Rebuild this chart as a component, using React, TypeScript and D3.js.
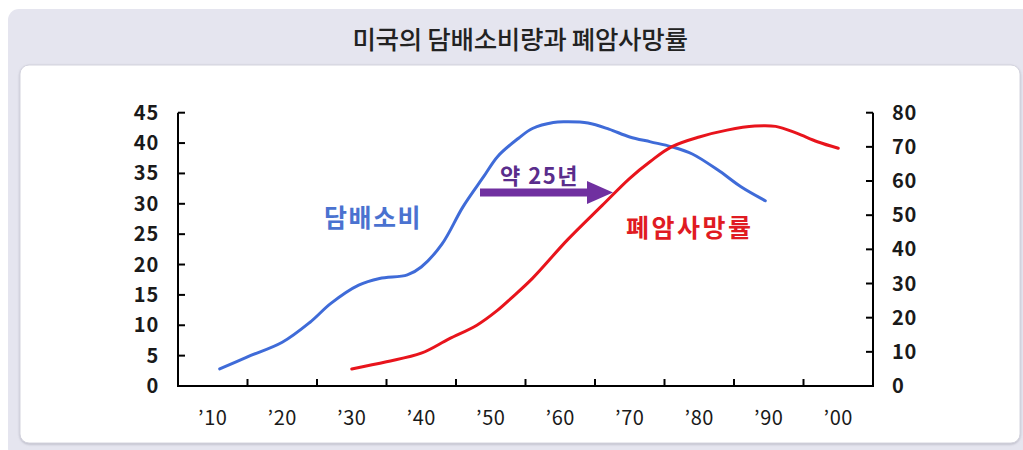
import React from "react";
import * as d3 from "d3";

// U.S. per-capita cigarette consumption (left axis) and lung-cancer death rate (right axis)
const smokingYears = [1911, 1915, 1920, 1924, 1927, 1931, 1934, 1938, 1940, 1943, 1946, 1949, 1951, 1954, 1956, 1959, 1961, 1964, 1967, 1970, 1973, 1976, 1979, 1983, 1986, 1989.5];
const smokingValues = [2.8, 4.8, 7.2, 10.5, 13.6, 16.6, 17.7, 18.3, 19.6, 23.4, 29.5, 34.5, 37.8, 40.8, 42.4, 43.4, 43.5, 43.3, 42.3, 41.0, 40.2, 39.4, 38.2, 35.3, 32.8, 30.5];

const cancerYears = [1930, 1935, 1940, 1944, 1948, 1951, 1953, 1956, 1961, 1966, 1970, 1973, 1976, 1980, 1984, 1988, 1991, 1994, 1997, 2000];
const cancerValues = [5.0, 7.1, 9.6, 13.8, 17.8, 22.2, 25.8, 31.5, 42.7, 52.8, 60.8, 65.8, 70.0, 72.9, 74.9, 76.1, 76.0, 74.0, 71.5, 69.6];

const decadeLabels = ["\u201910", "\u201920", "\u201930", "\u201940", "\u201950", "\u201960", "\u201970", "\u201980", "\u201990", "\u201900"];
const decadeYears = [1910, 1920, 1930, 1940, 1950, 1960, 1970, 1980, 1990, 2000];
const leftTicks = [0, 5, 10, 15, 20, 25, 30, 35, 40, 45];
const rightTicks = [0, 10, 20, 30, 40, 50, 60, 70, 80];

const W = 1023;
const H = 450;
const plot = { left: 178, right: 873, top: 112.7, bottom: 386 };

const KR = "'Noto Sans CJK KR', 'Noto Sans', sans-serif";

export default function App() {
  const x = d3.scaleLinear().domain([1905, 2005]).range([plot.left, plot.right]);
  const yL = d3.scaleLinear().domain([0, 45]).range([plot.bottom, plot.top]);
  const yR = d3.scaleLinear().domain([0, 80]).range([plot.bottom, plot.top]);

  const smokingLine = d3
    .line<number>()
    .x((_, i) => x(smokingYears[i]))
    .y((v) => yL(v))
    .curve(d3.curveCatmullRom.alpha(0.5));
  const cancerLine = d3
    .line<number>()
    .x((_, i) => x(cancerYears[i]))
    .y((v) => yR(v))
    .curve(d3.curveCatmullRom.alpha(0.5));

  const boundaryYears = d3.range(1915, 2000, 10);

  // delay arrow between the two curves
  const arrowY = 192.5;
  const ax0 = 480;
  const ax1 = 587;
  const tip = 613;

  return (
    <svg
      width={W}
      height={H}
      style={{ position: "absolute", left: 0, top: 0, display: "block" }}
    >
      <defs>
        <filter id="panelShadow" x="-5%" y="-5%" width="110%" height="110%">
          <feDropShadow dx="0" dy="1" stdDeviation="1" floodColor="#9a9aa8" floodOpacity="0.6" />
        </filter>
      </defs>
      <rect x={0} y={0} width={W} height={H} fill="#ffffff" />
      <rect x={8} y={9} width={W + 20} height={H} rx={11} fill="#e5e5ef" />
      <text
        x={520}
        y={48.5}
        textAnchor="middle"
        fontFamily={KR}
        fontSize={25.5}
        fontWeight={500}
        letterSpacing={-0.3}
        fill="#222"
      >
        미국의 담배소비량과 폐암사망률
      </text>
      <rect
        x={20}
        y={65}
        width={1000}
        height={378}
        rx={9}
        fill="#ffffff"
        stroke="#d4d4de"
        strokeWidth={1}
        filter="url(#panelShadow)"
      />

      {/* axes */}
      <g stroke="#000" strokeWidth={2} fill="none">
        <path d={`M${plot.left},${plot.top} V${plot.bottom} H${plot.right} V${plot.top}`} />
        {leftTicks.map((t) => (
          <line key={"l" + t} x1={plot.left} x2={plot.left + 7} y1={yL(t)} y2={yL(t)} />
        ))}
        {rightTicks.map((t) => (
          <line key={"r" + t} x1={plot.right} x2={plot.right - 7} y1={yR(t)} y2={yR(t)} />
        ))}
        {boundaryYears.map((yr) => (
          <line key={"b" + yr} x1={x(yr)} x2={x(yr)} y1={plot.bottom} y2={plot.bottom - 7} />
        ))}
      </g>

      <g fontFamily={KR} fontSize={20} fontWeight={700} fill="#1a1a1a" letterSpacing={0.8}>
        {leftTicks.map((t) => (
          <text key={"lt" + t} x={159} y={yL(t) + 7} textAnchor="end">
            {t}
          </text>
        ))}
        {rightTicks.map((t) => (
          <text key={"rt" + t} x={892} y={yR(t) + 7} textAnchor="start">
            {t}
          </text>
        ))}
      </g>
      <g fontFamily={KR} fontSize={20} fill="#1a1a1a" letterSpacing={0.5}>
        {decadeLabels.map((lab, i) => (
          <text key={lab} x={x(decadeYears[i])} y={425} textAnchor="middle">
            {lab}
          </text>
        ))}
      </g>

      {/* series */}
      <path d={smokingLine(smokingValues) || ""} fill="none" stroke="#3f6bd8" strokeWidth={3} strokeLinecap="round" />
      <path d={cancerLine(cancerValues) || ""} fill="none" stroke="#e8141c" strokeWidth={3} strokeLinecap="round" />

      {/* annotations */}
      <rect x={ax0} y={arrowY - 4} width={ax1 - ax0} height={8} fill="#7030a0" />
      <path d={`M${ax1},${arrowY - 11.5} L${tip},${arrowY} L${ax1},${arrowY + 11.5} Z`} fill="#7030a0" />
      <text x={500} y={184} fontFamily={KR} fontSize={22} fontWeight={700} fill="#5a2d8c" letterSpacing={1.5}>
        약 25년
      </text>
      <text x={324} y={227} fontFamily={KR} fontSize={25} fontWeight={700} fill="#4a72d0" letterSpacing={1.5}>
        담배소비
      </text>
      <text x={626} y={237} fontFamily={KR} fontSize={25} fontWeight={700} fill="#e01b22" letterSpacing={2.5}>
        폐암사망률
      </text>
    </svg>
  );
}
